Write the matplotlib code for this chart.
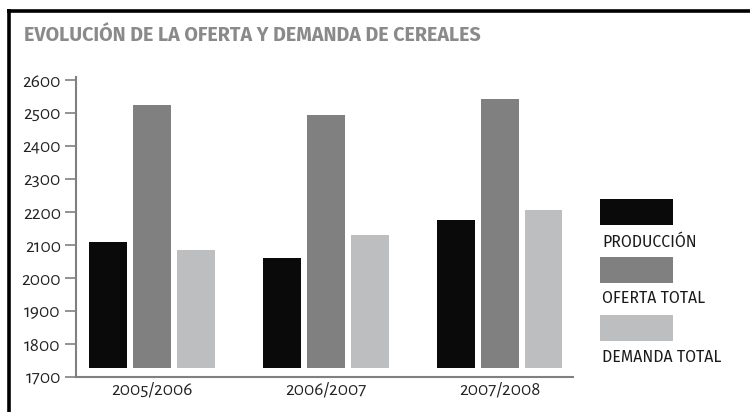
import matplotlib
matplotlib.use("Agg")
import matplotlib.pyplot as plt
from matplotlib.patches import Rectangle
from matplotlib.lines import Line2D
import numpy as np

title = "EVOLUCIÓN DE LA OFERTA Y DEMANDA DE CEREALES"
categories = ["2005/2006", "2006/2007", "2007/2008"]
series_names = ["PRODUCCIÓN", "OFERTA TOTAL", "DEMANDA TOTAL"]
produccion = [2108, 2061, 2176]
oferta_total = [2524, 2495, 2542]
demanda_total = [2085, 2130, 2206]
yticks = [1700, 1800, 1900, 2000, 2100, 2200, 2300, 2400, 2500, 2600]

colors = ["#0a0a0a", "#808080", "#bdbebf"]
series = [produccion, oferta_total, demanda_total]

TITLE_FONT = ["Fira Sans", "DejaVu Sans"]
NUM_FONT = ["Alegreya Sans", "DejaVu Sans"]

W, H = 750, 412
fig = plt.figure(figsize=(W / 100, H / 100), dpi=100)
fig.patch.set_facecolor("white")

# frame lines (left and top)
fig.add_artist(Line2D([8.5 / W, 8.5 / W], [0, 1 - 9 / H], transform=fig.transFigure,
                      color="black", lw=2.6, solid_capstyle="butt"))
fig.add_artist(Line2D([7 / W, 1], [1 - 10.5 / H, 1 - 10.5 / H], transform=fig.transFigure,
                      color="black", lw=2.6, solid_capstyle="butt"))

fig.text(24 / W, 1 - 35 / H, title, fontsize=14.2, fontweight="bold",
         family=TITLE_FONT, color="#8a8a8a", va="center", ha="left")

ax = fig.add_axes([76 / W, 1 - 376.7 / H, (573 - 76) / W, (376.7 - 76.7) / H])
x = np.arange(len(categories))
bw = 0.217
off = 0.251
base = 1727
for i, (vals, c) in enumerate(zip(series, colors)):
    ax.bar(x + (i - 1) * off, np.array(vals) - base, bottom=base, width=bw,
           color=c, edgecolor="none")

ax.set_xlim(-0.437, 2.42)
ax.set_ylim(1700, 2610)
ax.set_yticks(yticks)
ax.set_yticklabels([str(t) for t in yticks], fontsize=14, family=NUM_FONT, color="#222222")
ax.set_xticks(x)
ax.set_xticklabels(categories, fontsize=14, family=NUM_FONT, color="#222222")
ax.tick_params(axis="y", length=8, width=1.2, color="#808080", pad=3)
ax.tick_params(axis="x", length=0, pad=3)
for s in ["top", "right"]:
    ax.spines[s].set_visible(False)
for s in ["left", "bottom"]:
    ax.spines[s].set_color("#808080")
    ax.spines[s].set_linewidth(1.5)

# legend
patch_tops = [199, 257, 315]
label_ys = [242, 298, 357]
for name, c, pt, ly in zip(series_names, colors, patch_tops, label_ys):
    fig.add_artist(Rectangle((600 / W, 1 - (pt + 26) / H), 73 / W, 26 / H,
                             transform=fig.transFigure, facecolor=c, edgecolor="none"))
    fig.text(602 / W, 1 - ly / H, name, fontsize=11.4, family=TITLE_FONT,
             color="#1a1a1a", va="center", ha="left")

fig.savefig("out.png", dpi=100)
